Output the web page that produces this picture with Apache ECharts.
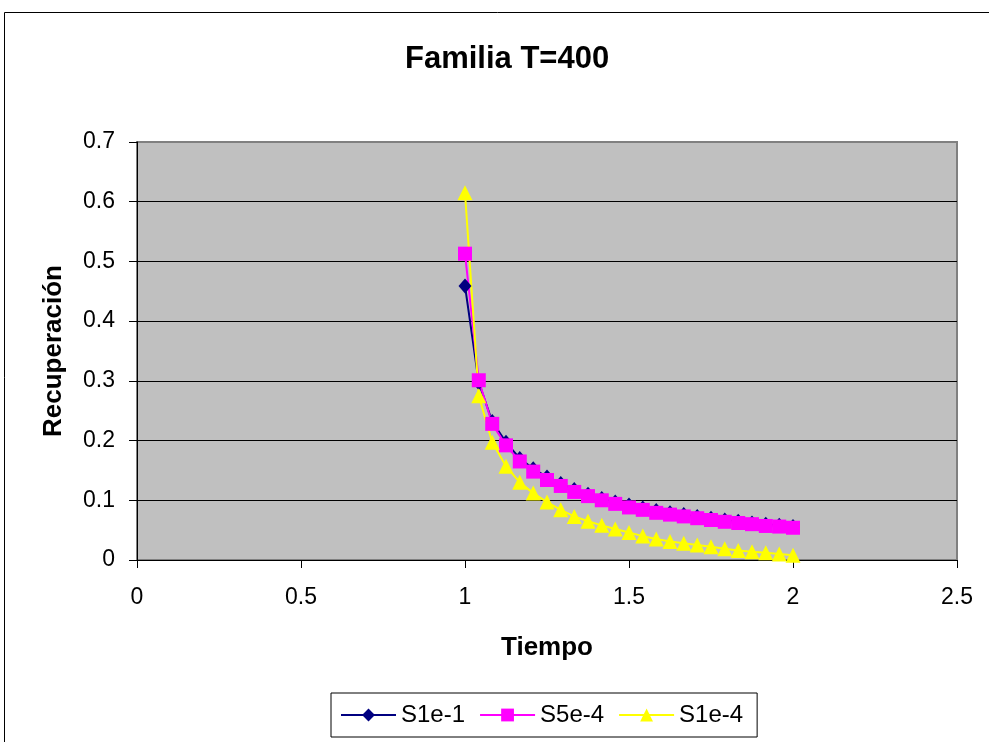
<!DOCTYPE html>
<html>
<head>
<meta charset="utf-8">
<script src="https://cdn.jsdelivr.net/npm/echarts@6/dist/echarts.min.js"></script>
<style>
  html, body { margin: 0; padding: 0; background: #fff; }
  #chart { width: 989px; height: 742px; }
</style>
</head>
<body>
<div id="chart"></div>
<script>
// tiempo values (x)
const tiempo = [1, 1.042, 1.083, 1.125, 1.167, 1.208, 1.25, 1.292, 1.333, 1.375, 1.417, 1.458, 1.5,
  1.542, 1.583, 1.625, 1.667, 1.708, 1.75, 1.792, 1.833, 1.875, 1.917, 1.958, 2];

const s1e1 = [0.459, 0.297, 0.232, 0.197, 0.170, 0.153, 0.139, 0.128, 0.118, 0.110, 0.103, 0.097, 0.092,
  0.087, 0.083, 0.079, 0.076, 0.073, 0.070, 0.067, 0.065, 0.062, 0.060, 0.058, 0.056];
const s5e4 = [0.513, 0.301, 0.228, 0.192, 0.165, 0.148, 0.134, 0.124, 0.114, 0.107, 0.100, 0.094, 0.088,
  0.084, 0.079, 0.076, 0.073, 0.070, 0.067, 0.064, 0.062, 0.060, 0.057, 0.056, 0.054];
const s1e4 = [0.615, 0.275, 0.197, 0.157, 0.130, 0.112, 0.097, 0.084, 0.073, 0.065, 0.058, 0.052, 0.046,
  0.040, 0.035, 0.031, 0.028, 0.025, 0.022, 0.019, 0.016, 0.014, 0.012, 0.010, 0.008];

const seriesNames = ["S1e-1", "S5e-4", "S1e-4"];

const pairs = (ys) => tiempo.map((x, i) => [x, ys[i]]);
const font = "'Liberation Sans', Arial, sans-serif";

const chart = echarts.init(document.getElementById("chart"));

const option = {
  animation: false,
  backgroundColor: "#fff",
  textStyle: { fontFamily: font },
  title: {
    text: "Familia T=400",
    left: 400,
    top: 39,
    textStyle: { fontSize: 31, fontWeight: "bold", color: "#000", fontFamily: font },
  },
  graphic: [
    {
      type: "rect",
      shape: { x: 4.5, y: 12.5, width: 990, height: 740 },
      style: { fill: "none", stroke: "#000", lineWidth: 1 },
      z: 0,
    },
  ],
  grid: {
    left: 137,
    right: 32,
    top: 142,
    bottom: 182,
    show: true,
    backgroundColor: "#C0C0C0",
    borderColor: "#808080",
    borderWidth: 2,
  },
  legend: {
    left: 331,
    top: 693,
    padding: [10, 14, 10, 9],
    borderColor: "#000",
    borderWidth: 1,
    itemWidth: 55,
    itemHeight: 16,
    itemGap: 14,
    textStyle: { fontSize: 24, color: "#000", fontFamily: font },
    data: seriesNames,
  },
  xAxis: {
    type: "value",
    min: 0,
    max: 2.5,
    interval: 0.5,
    name: "Tiempo",
    nameLocation: "middle",
    nameGap: 75,
    nameTextStyle: { fontSize: 26, fontWeight: "bold", color: "#000" },
    axisLine: { lineStyle: { color: "#000", width: 1 } },
    axisTick: { show: true, length: 8, lineStyle: { color: "#000" } },
    axisLabel: { fontSize: 23, color: "#000", margin: 26 },
    splitLine: { show: false },
  },
  yAxis: {
    type: "value",
    min: 0,
    max: 0.7,
    interval: 0.1,
    name: "Recuperación",
    nameLocation: "middle",
    nameGap: 70,
    nameTextStyle: { fontSize: 26, fontWeight: "bold", color: "#000" },
    axisLine: { show: true, lineStyle: { color: "#000", width: 1 } },
    axisTick: { show: true, length: 8, lineStyle: { color: "#000" } },
    axisLabel: { fontSize: 23, color: "#000", margin: 22 },
    splitLine: { show: true, showMaxLine: false, lineStyle: { color: "#000", width: 1 } },
  },
  series: [
    {
      name: seriesNames[0],
      type: "line",
      data: pairs(s1e1),
      symbol: "diamond",
      symbolSize: [13, 15],
      showAllSymbol: true,
      itemStyle: { color: "#000080" },
      lineStyle: { color: "#000080", width: 2 },
    },
    {
      name: seriesNames[1],
      type: "line",
      data: pairs(s5e4),
      symbol: "rect",
      symbolSize: 14,
      showAllSymbol: true,
      itemStyle: { color: "#FF00FF" },
      lineStyle: { color: "#FF00FF", width: 2 },
    },
    {
      name: seriesNames[2],
      type: "line",
      data: pairs(s1e4),
      symbol: "triangle",
      symbolSize: 15,
      showAllSymbol: true,
      itemStyle: { color: "#FFFF00" },
      lineStyle: { color: "#FFFF00", width: 2 },
    },
  ],
};

chart.setOption(option);
</script>
</body>
</html>
